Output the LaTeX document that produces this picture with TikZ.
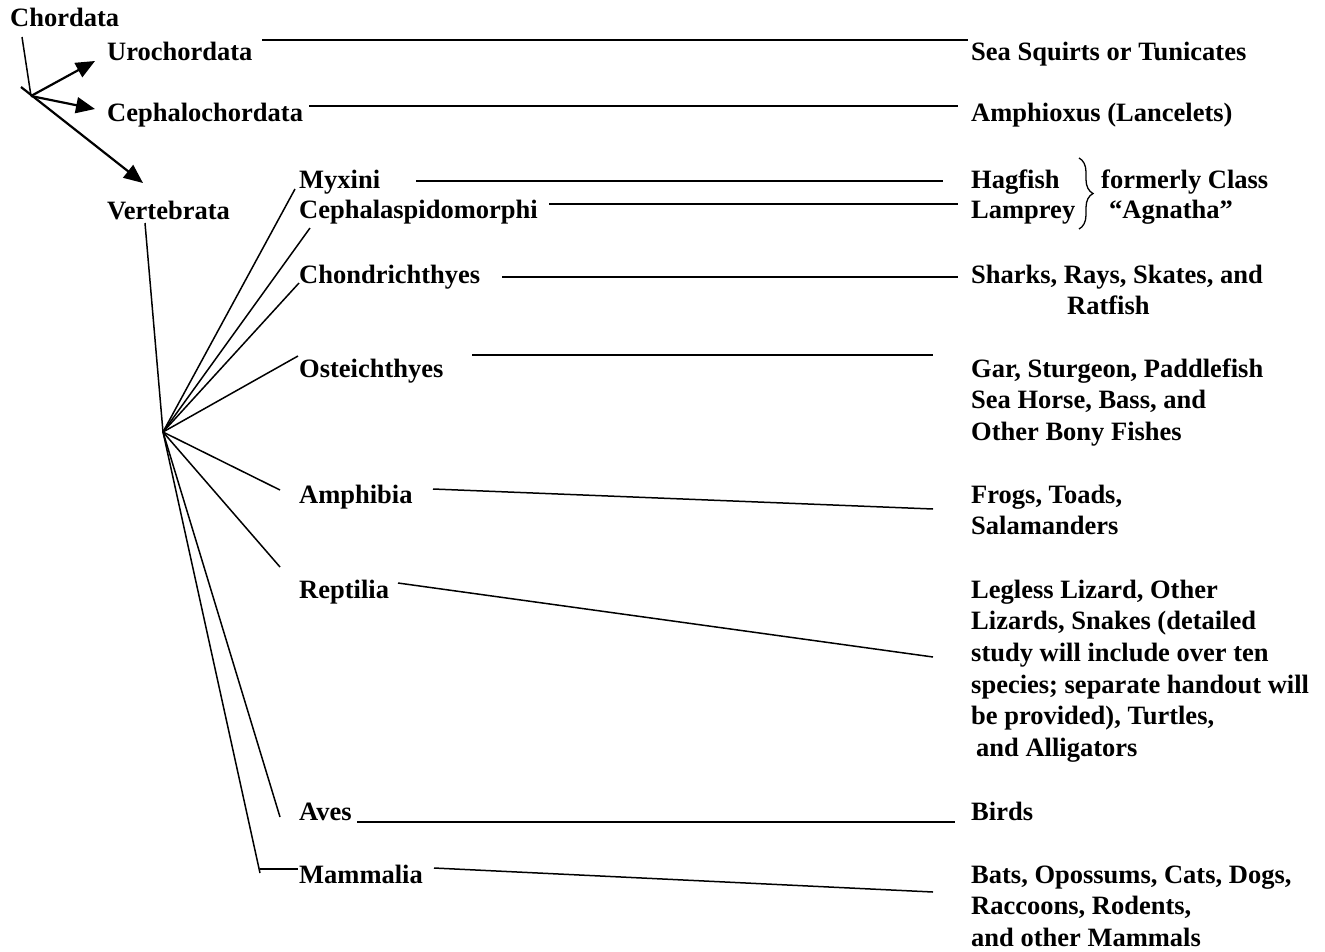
\documentclass[tikz,border=0pt]{standalone}
\usepackage{fontspec}
\setmainfont{Liberation Serif}
\usetikzlibrary{arrows.meta,decorations.pathreplacing}
\begin{document}
\begin{tikzpicture}[x=1pt,y=-1pt,
  lbl/.style={anchor=base west,inner sep=0pt,align=left,font=\fontsize{26.5}{31.7}\selectfont\bfseries},
  link/.style={line width=1.5pt},
  arr/.style={line width=2.2pt,-{Triangle[length=19pt,width=16pt]}},
  bracel/.style={line width=1.3pt,decorate,decoration={brace,amplitude=14pt}}]
\useasboundingbox (0,0) rectangle (1325,951);
% left labels
\node[lbl] (chordata) at (10,26) {Chordata};
\node[lbl] (uro) at (107,60) {Urochordata};
\node[lbl] (cephc) at (107,121) {Cephalochordata};
\node[lbl] (vert) at (107,219) {Vertebrata};
\node[lbl] (myx) at (299,188) {Myxini};
\node[lbl] (cephm) at (299,218) {Cephalaspidomorphi};
\node[lbl] (chon) at (299,283) {Chondrichthyes};
\node[lbl] (oste) at (299,377) {Osteichthyes};
\node[lbl] (amph) at (299,503) {Amphibia};
\node[lbl] (rept) at (299,598) {Reptilia};
\node[lbl] (aves) at (299,820) {Aves};
\node[lbl] (mamm) at (299,883) {Mammalia};
% right labels (multi-line nodes: anchor at baseline of last line)
\node[lbl] (sea) at (971,60) {Sea Squirts or Tunicates};
\node[lbl] (amphi) at (971,121) {Amphioxus (Lancelets)};
\node[lbl] (hag) at (971,188) {Hagfish};
\node[lbl] (lamp) at (971,218) {Lamprey};
\node[lbl] (form) at (1101,188) {formerly Class};
\node[lbl] (agn) at (1109,218) {“Agnatha”};
\node[lbl] (shark) at (971,314.7) {Sharks, Rays, Skates, and\\\hspace*{96pt}Ratfish};
\node[lbl] (gar) at (971,440.4) {Gar, Sturgeon, Paddlefish\\Sea Horse, Bass, and\\Other Bony Fishes};
\node[lbl] (frog) at (971,534.7) {Frogs, Toads,\\Salamanders};
\node[lbl] (liz) at (971,756.5) {Legless Lizard, Other\\Lizards, Snakes (detailed\\study will include over ten\\species; separate handout will\\be provided), Turtles,\\\hspace*{5pt}and Alligators};
\node[lbl] (birds) at (971,820) {Birds};
\node[lbl] (bats) at (971,946.4) {Bats, Opossums, Cats, Dogs,\\Raccoons, Rodents,\\and other Mammals};
% Chordata branching
\coordinate (c0) at (22,37);
\coordinate (o) at (31,96);
\coordinate (v0) at (21,87);
\coordinate (tu) at (95,61);
\coordinate (tc) at (95,109);
\coordinate (tv) at (143,183);
\draw[link] (c0) -- (o);
\draw[arr] (o) -- (tu);
\draw[arr] (o) -- (tc);
\draw[arr] (v0) -- (tv);
% Vertebrata hub
\coordinate (vtop) at (145,223);
\coordinate (h) at (163,432);
\draw[link] (vtop) -- (h);
\coordinate (e1) at (295,189);
\coordinate (e2) at (310,228);
\coordinate (e3) at (299,283);
\coordinate (e4) at (298,356);
\coordinate (e5) at (280,490);
\coordinate (e6) at (280,567);
\coordinate (e7) at (280,817);
\coordinate (e8) at (260,873);
\coordinate (e8a) at (260,869);
\coordinate (e8b) at (298,869);
\foreach \e in {e1,e2,e3,e4,e5,e6,e7,e8} \draw[link] (h) -- (\e);
\draw[link] (e8a) -- (e8b);
% horizontal connectors
\coordinate (a1) at (262,40);  \coordinate (b1) at (968,40);
\coordinate (a2) at (309,106); \coordinate (b2) at (958,106);
\coordinate (a3) at (416,181); \coordinate (b3) at (943,181);
\coordinate (a4) at (549,204); \coordinate (b4) at (958,204);
\coordinate (a5) at (502,277); \coordinate (b5) at (958,277);
\coordinate (a6) at (472,355); \coordinate (b6) at (933,355);
\coordinate (a7) at (433,489); \coordinate (b7) at (933,509);
\coordinate (a8) at (398,583); \coordinate (b8) at (933,657);
\coordinate (a9) at (357,822); \coordinate (b9) at (955,822);
\coordinate (a10) at (434,868); \coordinate (b10) at (933,892);
\foreach \i in {1,...,10} \draw[link] (a\i) -- (b\i);
% brace
\coordinate (br1) at (1079,158);
\coordinate (br2) at (1079,229);
\draw[bracel] (br1) -- (br2);
\end{tikzpicture}
\end{document}
